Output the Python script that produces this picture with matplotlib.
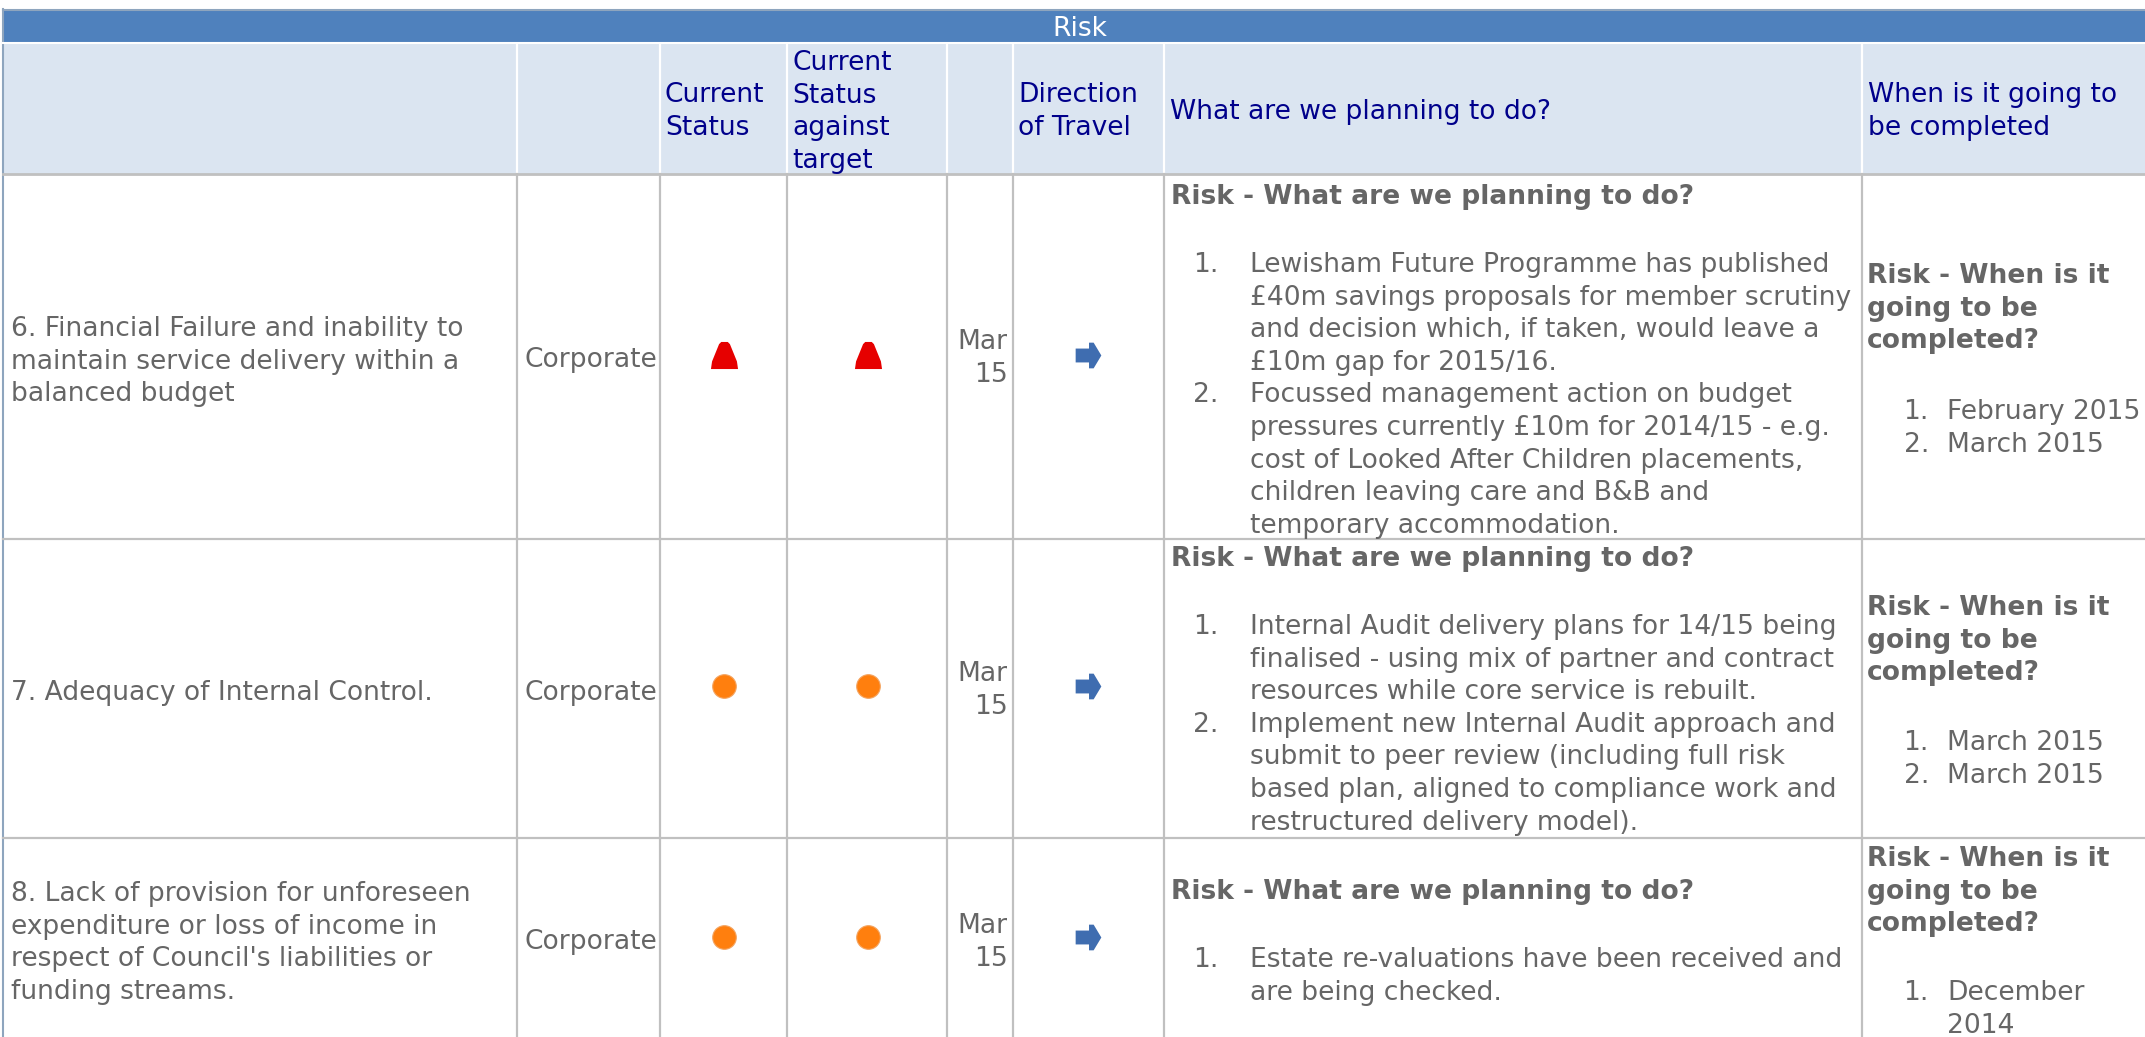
import matplotlib
matplotlib.use("Agg")
import matplotlib.pyplot as plt
from matplotlib.patches import Rectangle

banner = "Risk"
headers = [["Current", "Status"],
           ["Current", "Status", "against", "target"],
           ["Direction", "of Travel"],
           ["What are we planning to do?"],
           ["When is it going to", "be completed"]]

risk_names = [["6. Financial Failure and inability to", "maintain service delivery within a", "balanced budget"],
              ["7. Adequacy of Internal Control."],
              ["8. Lack of provision for unforeseen", "expenditure or loss of income in", "respect of Council's liabilities or", "funding streams."]]
risk_types = ["Corporate", "Corporate", "Corporate"]
status = ["red", "amber", "amber"]
status_target = ["red", "amber", "amber"]
period = [["Mar", "15"], ["Mar", "15"], ["Mar", "15"]]

plan_title = "Risk - What are we planning to do?"
plans = [[["Lewisham Future Programme has published", "£40m savings proposals for member scrutiny", "and decision which, if taken, would leave a", "£10m gap for 2015/16."],
          ["Focussed management action on budget", "pressures currently £10m for 2014/15 - e.g.", "cost of Looked After Children placements,", "children leaving care and B&B and", "temporary accommodation."]],
         [["Internal Audit delivery plans for 14/15 being", "finalised - using mix of partner and contract", "resources while core service is rebuilt."],
          ["Implement new Internal Audit approach and", "submit to peer review (including full risk", "based plan, aligned to compliance work and", "restructured delivery model)."]],
         [["Estate re-valuations have been received and", "are being checked."]]]

when_title = ["Risk - When is it", "going to be", "completed?"]
whens = [[["February 2015"], ["March 2015"]],
         [["March 2015"], ["March 2015"]],
         [["December", "2014"]]]

# layout, in pixels of the screenshot
col_edges = [3, 517, 660, 787, 947, 1013, 1164, 1862, 2145]
row_edges = [174, 539, 838, 1037]
pitch = 32.6
name_y = [336, 700, 901]
type_y = [367, 700, 949]
period_y = [349, 681, 933]
icon_y = [355, 686, 937]
plan_title_y = [204, 566, 899]
plan_y = [272, 634, 967]
when_title_y = [283, 615, 866]
when_y = [419, 750, 1000]
header_y = [102, 70, 102, 119, 102]
header_x = [665, 792, 1018, 1170, 1868]

GREY = "#666666"
NAVY = "#00008B"
LINE = "#C0C0C0"
FS = 19.1

TRAPEZOID = [(-0.5, -0.5), (0.5, -0.5), (0.46, -0.22), (0.2, 0.42), (0.12, 0.5), (-0.12, 0.5), (-0.2, 0.42), (-0.46, -0.22)]
ARROW = [(-0.5, -0.27), (0.02, -0.27), (0.02, -0.5), (0.2, -0.5), (0.5, 0.0), (0.2, 0.5), (0.02, 0.5), (0.02, 0.27), (-0.5, 0.27)]

fig = plt.figure(figsize=(21.45, 10.37), dpi=100)
ax = fig.add_axes([0, 0, 1, 1])
ax.set_xlim(0, 2145)
ax.set_ylim(1037, 0)
ax.axis("off")


def block(x, y, lines, color=GREY, weight="normal", ha="left"):
    for i, line in enumerate(lines):
        ax.text(x, y + i * pitch, line, color=color, fontsize=FS, fontweight=weight,
                ha=ha, va="baseline", family="DejaVu Sans")
    return y + len(lines) * pitch


def numbered(num_x, text_x, y, items):
    for n, lines in enumerate(items):
        ax.text(num_x, y, "%d." % (n + 1), color=GREY, fontsize=FS, ha="right", va="baseline",
                family="DejaVu Sans")
        y = block(text_x, y, lines)


# banner and header fills
ax.add_patch(Rectangle((3, 9), 2142, 33, fc="#4F81BD", ec="none"))
ax.plot([3, 2145], [9.5, 9.5], color="#8EA5BE", lw=1.5)
ax.add_patch(Rectangle((3, 44), 2142, 130, fc="#DBE5F1", ec="none"))
ax.text(1080, 36, banner, color="white", fontsize=FS, ha="center", va="baseline", family="DejaVu Sans")

for x in col_edges[1:-1]:
    ax.plot([x, x], [44, 174], color="white", lw=1.6)
    ax.plot([x, x], [174, 1037], color=LINE, lw=1.6)
ax.plot([3, 3], [9, 1037], color="#8EA5BE", lw=1.5)
ax.plot([3, 2145], [43, 43], color="white", lw=1.5)
for y in row_edges[:-1]:
    ax.plot([3, 2145], [y, y], color=LINE, lw=2 if y == 174 else 1.6)

for x, y, lines in zip(header_x, header_y, headers):
    block(x, y, lines, color=NAVY)

for r in range(3):
    block(11, name_y[r], risk_names[r])
    block(524, type_y[r], [risk_types[r]])
    block(1008, period_y[r], period[r], ha="right")
    block(1171, plan_title_y[r], [plan_title], weight="bold")
    numbered(1218, 1250, plan_y[r], plans[r])
    block(1867, when_title_y[r], when_title, weight="bold")
    numbered(1929, 1947, when_y[r], whens[r])

    for x, s in zip([724, 868], [status[r], status_target[r]]):
        if s == "red":
            ax.plot(x, icon_y[r], marker=TRAPEZOID, ms=19.5, color="#E60000", mew=0)
        else:
            ax.plot(x, icon_y[r], marker="o", ms=17, color="#FF7F0E", mec="#F4A460", mew=0.8)
    ax.plot(1088, icon_y[r], marker=ARROW, ms=18.5, color="#3F6DB0", mew=0)

fig.savefig("out.png", dpi=100)
